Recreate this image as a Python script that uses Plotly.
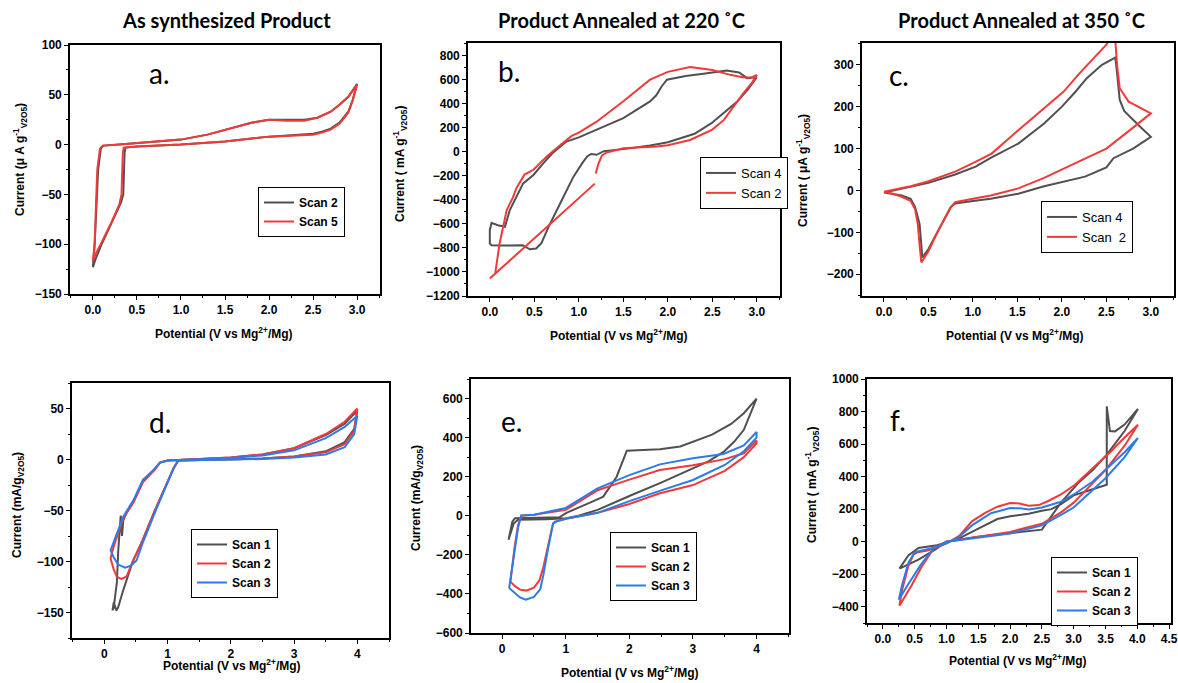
import plotly.graph_objects as go

W, H = 1178, 683
GRAY = "#505050"
RED = "#f03a3a"
BLUE = "#2d7be6"

# ---------------- Panel a : As synthesized (uA/g) ----------------
A_SCAN2_V = [3.0, 2.95, 2.9, 2.8, 2.7, 2.6, 2.5, 2.2, 2.0, 1.5, 1.0, 0.5, 0.37, 0.36, 0.355, 0.345, 0.32, 0.2, 0.1, 0.03, 0.0,
             0.02, 0.04, 0.06, 0.09, 0.12, 0.3, 0.6, 1.0, 1.3, 1.6, 1.8, 2.0, 2.2, 2.4, 2.55, 2.7, 2.8, 2.9, 3.0]
A_SCAN2_I = [61, 45, 33, 22, 16, 13, 11, 9, 8, 3, 0, -2, -3, -8, -30, -50, -58, -80, -100, -115, -123,
             -100, -60, -25, -4, -1, 0, 2, 5, 10, 17, 22, 25, 25, 25, 27, 33, 40, 48, 61]
A_SCAN5_V = [3.0, 2.95, 2.9, 2.8, 2.7, 2.6, 2.5, 2.2, 2.0, 1.5, 1.0, 0.5, 0.35, 0.34, 0.335, 0.325, 0.3, 0.2, 0.1, 0.03, 0.0,
             0.02, 0.035, 0.05, 0.08, 0.11, 0.3, 0.6, 1.0, 1.3, 1.6, 1.8, 2.0, 2.2, 2.4, 2.55, 2.7, 2.8, 2.9, 3.0]
A_SCAN5_I = [60, 44, 32, 21, 15, 12, 10, 9, 8, 3, 0, -2, -3, -8, -30, -50, -60, -80, -98, -110, -117,
             -100, -60, -25, -4, -1, 0, 2, 5, 10, 17, 22, 25, 24, 24, 27, 33, 40, 48, 60]

# ---------------- Panel b : annealed 220 C (mA/g) ----------------
B_SCAN4_V = [3.0, 2.89, 2.8, 2.66, 2.4, 2.2, 1.99, 1.93, 1.87, 1.8, 1.5, 1.2, 1.0, 0.86, 0.7, 0.6, 0.49, 0.375, 0.3, 0.225, 0.17,
             0.09, 0.02, 0.0, 0.0, 0.02, 0.1, 0.3, 0.37, 0.45, 0.52, 0.58, 0.66, 0.79, 0.94, 1.05, 1.1, 1.14, 1.2, 1.28,
             1.5, 1.8, 2.0, 2.3, 2.49, 2.78, 2.9, 3.0]
B_SCAN4_I = [620, 613, 660, 677, 650, 630, 600, 543, 470, 419, 280, 182, 120, 85, -15, -96, -193, -263, -370, -485, -624,
             -611, -592, -650, -764, -778, -780, -780, -778, -811, -805, -760, -625, -430, -207, -82, -35, -18, -25, 5,
             22, 52, 80, 150, 238, 418, 520, 620]
B_SCAN2_V = [1.19, 1.22, 1.26, 1.31, 1.5, 1.875, 2.0, 2.25, 2.5, 2.63, 2.85, 2.95, 3.0, 2.95, 2.85, 2.7, 2.5, 2.25, 2.0, 1.8,
             1.5, 1.2, 1.0, 0.92, 0.8, 0.64, 0.49, 0.39, 0.3, 0.26, 0.19, 0.14, 0.11, 0.06, 0.0, 1.18]
B_SCAN2_I = [-180, -100, -30, -7, 29, 43, 55, 98, 185, 265, 488, 580, 640, 620, 618, 640, 680, 705, 665, 600,
             420, 250, 160, 132, 60, -40, -150, -190, -300, -380, -485, -650, -763, -1014, -1055, -265]

# ---------------- Panel c : annealed 350 C (uA/g) ----------------
C_SCAN4_V = [0.0, 0.3, 0.5, 0.8, 1.03, 1.2, 1.51, 1.8, 2.0, 2.15, 2.28, 2.45, 2.6, 2.62, 2.65, 2.7, 2.8, 2.9, 3.0,
             2.8, 2.58, 2.5, 2.26, 2.0, 1.8, 1.51, 1.2, 1.0, 0.8, 0.75, 0.69, 0.6, 0.5, 0.43, 0.42, 0.4, 0.35, 0.3, 0.2,
             0.1, 0.0]
C_SCAN4_I = [-5, 8, 18, 38, 57, 78, 112, 160, 200, 235, 268, 300, 317, 280, 216, 190, 168, 148, 128,
             100, 77, 55, 33, 20, 10, -8, -20, -25, -31, -40, -63, -100, -140, -160, -130, -80, -40, -20, -12,
             -9, -5]
C_SCAN2_V = [0.0, 0.3, 0.5, 0.8, 1.0, 1.21, 1.51, 1.8, 2.02, 2.2, 2.4, 2.5, 2.56, 2.6, 2.62, 2.65, 2.75, 2.9, 3.0,
             2.8, 2.5, 2.2, 2.0, 1.8, 1.51, 1.2, 1.0, 0.8, 0.75, 0.7, 0.6, 0.5, 0.42, 0.4, 0.38, 0.35, 0.3, 0.2, 0.1, 0.0]
C_SCAN2_I = [-3, 10, 22, 45, 65, 88, 144, 195, 236, 280, 325, 348, 370, 360, 300, 244, 212, 195, 184,
             150, 100, 70, 49, 30, 5, -12, -20, -28, -40, -60, -100, -145, -172, -130, -80, -45, -25, -15, -8, -3]

# ---------------- Panel d ----------------
D_SCAN1_V = [4.0, 3.8, 3.5, 3.0, 2.5, 2.0, 1.5, 1.0, 0.88, 0.8, 0.61, 0.46, 0.35, 0.3, 0.28, 0.26, 0.22, 0.2, 0.17, 0.15,
             0.13, 0.15, 0.19, 0.22, 0.3, 0.45, 0.6, 0.8, 1.0, 1.1, 1.17, 1.5, 2.0, 2.5, 3.0, 3.5, 3.8, 3.95, 4.0]
D_SCAN1_I = [48, 35, 24, 11, 5, 2, 0.5, -1, -3, -9, -22, -42, -52, -60, -75, -55, -90, -120, -135, -145,
             -148, -140, -148, -145, -128, -100, -80, -50, -22, -8, -1, -0.5, 0, 1, 3, 8, 17, 30, 48]
D_SCAN2_V = [4.0, 3.8, 3.5, 3.0, 2.5, 2.0, 1.5, 1.0, 0.88, 0.8, 0.61, 0.46, 0.3, 0.2, 0.15, 0.12, 0.1, 0.15, 0.2, 0.27,
             0.35, 0.45, 0.6, 0.8, 1.0, 1.1, 1.17, 1.5, 2.0, 2.5, 3.0, 3.5, 3.8, 3.95, 4.0]
D_SCAN2_I = [50, 37, 25, 11, 5, 2, 0.5, -1, -3, -10, -22, -42, -58, -75, -85, -92, -97, -108, -115, -117,
             -115, -100, -80, -50, -22, -8, -1, -0.5, 0, 1, 3, 7, 15, 28, 50]
D_SCAN3_V = [4.0, 3.8, 3.5, 3.0, 2.5, 2.0, 1.5, 1.0, 0.88, 0.8, 0.61, 0.46, 0.3, 0.2, 0.16, 0.13, 0.1, 0.15, 0.22, 0.33,
             0.42, 0.51, 0.6, 0.8, 1.0, 1.1, 1.17, 1.5, 2.0, 2.5, 3.0, 3.5, 3.8, 3.95, 4.0]
D_SCAN3_I = [43, 32, 21, 9, 4, 1.5, 0.3, -1, -3, -9, -20, -40, -56, -72, -80, -85, -89, -96, -103, -106,
             -104, -99, -83, -52, -22, -8, -1, -0.5, 0, 0.5, 2, 5, 12, 25, 43]

# ---------------- Panel e ----------------
E_SCAN1_V = [0.1, 0.13, 0.16, 0.2, 0.5, 0.9, 1.01, 1.2, 1.4, 1.59, 1.8, 1.96, 2.2, 2.48, 2.8, 3.0, 3.3, 3.6, 3.8, 4.0,
             3.9, 3.8, 3.65, 3.48, 3.25, 3.0, 2.5, 2.0, 1.5, 1.2, 1.01, 0.7, 0.4, 0.25, 0.18, 0.13, 0.1]
E_SCAN1_I = [-123, -70, -30, -13, -12, -8, 15, 40, 70, 98, 200, 333, 336, 341, 355, 378, 415, 470, 525, 600,
             520, 440, 380, 327, 280, 242, 170, 101, 30, 0, -13, -18, -20, -20, -40, -90, -123]
E_SCAN2_V = [0.13, 0.2, 0.28, 0.38, 0.5, 0.59, 0.65, 0.72, 0.8, 0.83, 0.9, 1.0, 1.5, 2.0, 2.48, 3.0, 3.5, 3.8, 4.0,
             4.0, 3.8, 3.5, 3.0, 2.48, 2.0, 1.51, 1.0, 0.5, 0.3, 0.25, 0.2, 0.16, 0.13]
E_SCAN2_I = [-337, -360, -378, -383, -368, -328, -260, -150, -40, -30, -25, -15, 15, 60, 115, 157, 230, 300, 370,
             385, 320, 290, 259, 234, 185, 132, 30, 5, 0, -50, -150, -250, -337]
E_SCAN3_V = [0.11, 0.2, 0.28, 0.37, 0.5, 0.6, 0.65, 0.72, 0.8, 0.85, 1.0, 1.5, 2.0, 2.5, 3.0, 3.5, 3.8, 4.0,
             4.0, 3.8, 3.48, 3.0, 2.48, 2.0, 1.5, 1.0, 0.5, 0.3, 0.25, 0.2, 0.15, 0.11]
E_SCAN3_I = [-370, -395, -418, -430, -415, -375, -300, -170, -40, -30, -15, 15, 75, 130, 183, 260, 330, 400,
             429, 360, 316, 294, 263, 208, 140, 40, 5, 2, -60, -170, -280, -370]

# ---------------- Panel f ----------------
F_SCAN1_V = [0.26, 0.4, 0.56, 0.7, 0.85, 1.0, 1.2, 1.5, 1.8, 2.0, 2.29, 2.5, 2.65, 2.8, 3.0, 3.2, 3.52, 3.52, 3.57, 3.65,
             3.8, 4.01, 3.8, 3.52, 3.3, 3.07, 2.8, 2.5, 2.0, 1.5, 1.0, 0.82, 0.56, 0.4, 0.26]
F_SCAN1_I = [-166, -85, -39, -30, -22, -5, 20, 80, 139, 156, 172, 190, 200, 230, 285, 310, 350, 832, 680, 678,
             720, 816, 680, 535, 440, 360, 240, 74, 53, 30, 0, -49, -110, -140, -166]
F_SCAN2_V = [0.26, 0.3, 0.4, 0.48, 0.55, 0.7, 0.85, 1.0, 1.2, 1.4, 1.6, 1.8, 2.0, 2.15, 2.29, 2.45, 2.6, 2.8, 3.02, 3.3,
             3.6, 3.8, 4.01, 3.8, 3.5, 3.2, 3.0, 2.8, 2.5, 2.0, 1.5, 1.0, 0.8, 0.6, 0.45, 0.26]
F_SCAN2_I = [-394, -300, -150, -80, -65, -55, -35, -10, 35, 125, 175, 215, 238, 235, 221, 225, 250, 290, 350, 450,
             560, 640, 719, 590, 440, 320, 240, 180, 110, 60, 30, 2, -40, -160, -270, -394]
F_SCAN3_V = [0.25, 0.3, 0.4, 0.5, 0.6, 0.8, 1.0, 1.2, 1.4, 1.7, 2.0, 2.15, 2.3, 2.5, 2.8, 3.0, 3.3, 3.5, 3.8, 4.01,
             3.8, 3.5, 3.2, 3.0, 2.8, 2.5, 2.0, 1.5, 1.0, 0.8, 0.6, 0.4, 0.25]
F_SCAN3_I = [-357, -270, -130, -65, -55, -38, -10, 30, 100, 175, 207, 205, 198, 210, 245, 290, 370, 440, 550, 637,
             520, 390, 280, 210, 165, 100, 50, 25, 0, -40, -140, -260, -357]

TITLES = ["As synthesized Product", "Product Annealed at 220 \u02daC", "Product Annealed at 350 \u02daC"]
X_TITLE = "Potential (V vs Mg<sup>2+</sup>/Mg)"

# ---------------- layout geometry (pixels) ----------------
panels = [
    dict(key="a", box=(70, 380, 45, 294), xr=[-0.26, 3.26], yr=[-150, 100], xd=0.5, xm=0.25, yd=50, ym=25, xfmt=".1f",
         ytitle="Current (\u03bc A g<sup>-1</sup><sub>V2O5</sub>)", ytx=20, yty=160, xtx=224, xty=333,
         lab=(159, 73), leg=(258, 187), legbold=True,
         traces=[("Scan 2", A_SCAN2_V, A_SCAN2_I, GRAY), ("Scan 5", A_SCAN5_V, A_SCAN5_I, RED)]),
    dict(key="b", box=(468, 780, 43, 296), xr=[-0.245, 3.26], yr=[-1200, 905], xd=0.5, xm=0.25, yd=200, ym=100, xfmt=".1f",
         ytitle="Current ( mA g<sup>-1</sup><sub>V2O5</sub>)", ytx=400, yty=164, xtx=619, xty=335,
         lab=(509, 71), leg=(700, 157), legbold=False,
         traces=[("Scan 4", B_SCAN4_V, B_SCAN4_I, GRAY), ("Scan 2", B_SCAN2_V, B_SCAN2_I, RED)]),
    dict(key="c", box=(862, 1174, 43, 296), xr=[-0.247, 3.26], yr=[-252, 352], xd=0.5, xm=0.25, yd=100, ym=50, xfmt=".1f",
         ytitle="Current ( \u03bcA g<sup>-1</sup><sub>V2O5</sub>)", ytx=803, yty=171, xtx=1015, xty=335,
         lab=(899, 75), leg=(1041, 201), legbold=False,
         traces=[("Scan 4", C_SCAN4_V, C_SCAN4_I, GRAY), ("Scan  2", C_SCAN2_V, C_SCAN2_I, RED)]),
    dict(key="d", box=(72, 389, 383, 638), xr=[-0.51, 4.5], yr=[-175, 75], xd=1, xm=0.5, yd=50, ym=25, xfmt="d",
         ytitle="Current (mA/g<sub>V2O5</sub>)", ytx=18, yty=505, xtx=232, xty=665,
         lab=(160, 422), leg=(191, 529), legbold=True,
         traces=[("Scan 1", D_SCAN1_V, D_SCAN1_I, GRAY), ("Scan 2", D_SCAN2_V, D_SCAN2_I, RED),
                 ("Scan 3", D_SCAN3_V, D_SCAN3_I, BLUE)]),
    dict(key="e", box=(471, 789, 379, 633), xr=[-0.49, 4.51], yr=[-600, 700], xd=1, xm=0.5, yd=200, ym=100, xfmt="d",
         ytitle="Current (mA/g<sub>V2O5</sub>)", ytx=417, yty=498, xtx=630, xty=672,
         lab=(511, 421), leg=(610, 532), legbold=True,
         traces=[("Scan 1", E_SCAN1_V, E_SCAN1_I, GRAY), ("Scan 2", E_SCAN2_V, E_SCAN2_I, RED),
                 ("Scan 3", E_SCAN3_V, E_SCAN3_I, BLUE)]),
    dict(key="f", box=(867, 1171, 379, 623), xr=[-0.25, 4.53], yr=[-500, 1000], xd=0.5, xm=0.25, yd=200, ym=100, xfmt=".1f",
         ytitle="Current ( mA g<sup>-1</sup><sub>V2O5</sub>)", ytx=812, yty=485, xtx=1018, xty=660,
         lab=(898, 420), leg=(1051, 557), legbold=True,
         traces=[("Scan 1", F_SCAN1_V, F_SCAN1_I, GRAY), ("Scan 2", F_SCAN2_V, F_SCAN2_I, RED),
                 ("Scan 3", F_SCAN3_V, F_SCAN3_I, BLUE)]),
]

TICK_FONT = dict(family="Liberation Sans, Arial", size=12, color="black", weight="bold")
AX_FONT = dict(family="Liberation Sans, Arial", size=12, color="black", weight="bold")

fig = go.Figure()
layout = dict(width=W, height=H, margin=dict(l=0, r=0, t=0, b=0, pad=0, autoexpand=False),
              paper_bgcolor="white", plot_bgcolor="white", showlegend=True, annotations=[])

def px(x):
    return x / W

def py(y):
    return 1 - y / H

for i, p in enumerate(panels):
    n = i + 1
    sfx = "" if n == 1 else str(n)
    x0, x1, y0, y1 = p["box"]
    common = dict(showline=True, linecolor="black", linewidth=1.6, mirror=True, showgrid=False, zeroline=False,
                  ticks="outside", ticklen=4, tickwidth=1.3, tickcolor="black", tickfont=TICK_FONT, automargin=False)
    layout["xaxis" + sfx] = dict(domain=[px(x0), px(x1)], range=p["xr"], anchor="y" + sfx, dtick=p["xd"], tick0=0,
                                 tickformat=p["xfmt"],
                                 minor=dict(ticks="outside", ticklen=2, tickwidth=1, tickcolor="black", dtick=p["xm"], tick0=0),
                                 **common)
    layout["yaxis" + sfx] = dict(domain=[py(y1), py(y0)], range=p["yr"], anchor="x" + sfx, dtick=p["yd"], tick0=0,
                                 minor=dict(ticks="outside", ticklen=2, tickwidth=1, tickcolor="black", dtick=p["ym"], tick0=0),
                                 **common)
    legname = "legend" if n == 1 else "legend" + str(n)
    lx, ly = p["leg"]
    layout[legname] = dict(x=px(lx), y=py(ly), xanchor="left", yanchor="top", xref="paper", yref="paper",
                           bordercolor="black", borderwidth=1, bgcolor="white", tracegroupgap=0, itemwidth=30,
                           font=dict(family="Liberation Sans, Arial", size=12 if p["legbold"] else 13, color="black",
                                     weight="bold" if p["legbold"] else "normal"))
    for name, v, c, col in p["traces"]:
        fig.add_trace(go.Scatter(x=v, y=c, mode="lines", name=name, line=dict(color=col, width=2),
                                 xaxis="x" + sfx, yaxis="y" + sfx, legend=legname))
    # axis titles
    layout["annotations"].append(dict(text=p["ytitle"], x=px(p["ytx"]), y=py(p["yty"]), xref="paper", yref="paper",
                                      textangle=-90, showarrow=False, font=AX_FONT, xanchor="center", yanchor="middle"))
    layout["annotations"].append(dict(text=X_TITLE, x=px(p["xtx"]), y=py(p["xty"]), xref="paper", yref="paper",
                                      showarrow=False, font=AX_FONT, xanchor="center", yanchor="middle"))
    # panel label
    lbx, lby = p["lab"]
    layout["annotations"].append(dict(text=p["key"] + ".", x=px(lbx), y=py(lby), xref="paper", yref="paper",
                                      showarrow=False, font=dict(family="Lato, Open Sans", size=28, color="black"),
                                      xanchor="center", yanchor="middle"))

for t, cx in zip(TITLES, [227, 621, 1021]):
    layout["annotations"].append(dict(text=t, x=px(cx), y=py(20), xref="paper", yref="paper", showarrow=False,
                                      font=dict(family="Lato, Open Sans", size=20, color="black", weight="bold"),
                                      xanchor="center", yanchor="middle"))

fig.update_layout(**layout)
POST = ("document.documentElement.style.margin='0';document.documentElement.style.overflow='hidden';"
        "document.body.style.margin='0';document.body.style.padding='0';document.body.style.overflow='hidden';")
fig.write_html("out.html", config={"displayModeBar": False}, post_script=POST)
